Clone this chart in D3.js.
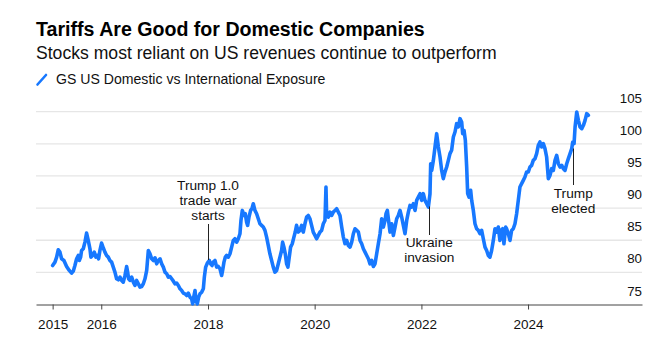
<!DOCTYPE html>
<html>
<head>
<meta charset="utf-8">
<script src="https://cdn.jsdelivr.net/npm/d3@7"></script>
<style>
  body { margin: 0; background: #fff; }
  svg { display: block; font-family: "Liberation Sans", Arial, Helvetica, sans-serif; }
</style>
</head>
<body>
<div class="chart"></div>
<script>

// observations: decimal year + index level
var obsYear = [
  2015.088,2015.132,2015.163,2015.194,2015.225,2015.256,2015.300,2015.350,2015.400,2015.444,
  2015.475,2015.506,2015.538,2015.569,2015.588,2015.613,2015.631,2015.663,2015.694,2015.725,
  2015.756,2015.788,2015.806,2015.838,2015.869,2015.900,2015.925,2015.950,2015.975,2016.006,
  2016.037,2016.069,2016.100,2016.131,2016.162,2016.194,2016.225,2016.256,2016.287,2016.319,
  2016.350,2016.381,2016.412,2016.444,2016.475,2016.494,2016.512,2016.537,2016.569,2016.600,
  2016.631,2016.662,2016.694,2016.725,2016.756,2016.787,2016.818,2016.850,2016.881,2016.912,
  2016.943,2016.975,2017.006,2017.037,2017.068,2017.100,2017.131,2017.162,2017.193,2017.225,
  2017.256,2017.287,2017.318,2017.350,2017.381,2017.412,2017.443,2017.475,2017.506,2017.537,
  2017.568,2017.600,2017.631,2017.662,2017.693,2017.712,2017.737,2017.756,2017.774,2017.799,
  2017.824,2017.849,2017.881,2017.912,2017.931,2017.956,2017.987,2018.024,2018.049,2018.074,
  2018.099,2018.131,2018.162,2018.193,2018.224,2018.256,2018.274,2018.299,2018.324,2018.349,
  2018.380,2018.412,2018.443,2018.474,2018.505,2018.537,2018.568,2018.599,2018.618,2018.643,
  2018.674,2018.699,2018.724,2018.743,2018.768,2018.799,2018.824,2018.849,2018.880,2018.912,
  2018.943,2018.974,2019.005,2019.037,2019.068,2019.099,2019.130,2019.161,2019.193,2019.224,
  2019.255,2019.286,2019.318,2019.349,2019.380,2019.399,2019.424,2019.449,2019.474,2019.499,
  2019.524,2019.549,2019.580,2019.611,2019.636,2019.661,2019.693,
  2019.724,2019.756,2019.787,2019.818,2019.849,2019.881,2019.912,2019.943,2019.974,2020.006,
  2020.037,2020.068,2020.100,2020.131,2020.162,2020.193,2020.212,2020.224,2020.256,2020.287,
  2020.318,2020.349,2020.381,2020.412,2020.443,2020.474,2020.506,2020.537,2020.568,2020.599,
  2020.630,2020.662,2020.693,2020.724,2020.755,2020.787,2020.818,2020.849,2020.880,2020.911,
  2020.943,2020.974,2021.005,2021.036,2021.068,2021.099,2021.130,2021.161,2021.192,2021.224,
  2021.255,2021.286,2021.317,2021.336,2021.361,2021.380,2021.411,2021.443,2021.474,2021.505,
  2021.536,2021.567,2021.599,2021.630,2021.661,2021.692,2021.724,2021.755,2021.786,2021.817,
  2021.849,2021.880,2021.911,2021.942,2021.974,2022.005,2022.036,2022.067,2022.099,2022.130,
  2022.161,2022.174,2022.193,2022.224,2022.255,2022.286,2022.318,2022.349,2022.380,2022.411,
  2022.442,2022.474,2022.505,2022.536,2022.567,2022.599,2022.630,2022.661,2022.692,2022.724,
  2022.755,2022.774,2022.799,2022.824,2022.849,2022.868,2022.893,2022.924,2022.943,2022.974,
  2023.005,2023.036,2023.068,2023.099,2023.130,2023.161,2023.193,2023.224,2023.255,2023.286,
  2023.317,2023.349,2023.380,2023.411,2023.442,2023.473,2023.492,2023.523,2023.548,2023.580,
  2023.598,2023.630,2023.661,2023.692,2023.723,2023.755,2023.786,2023.817,2023.848,2023.880,
  2023.911,2023.942,2023.973,2024.005,2024.036,2024.067,2024.098,2024.130,2024.161,2024.192,
  2024.223,2024.255,2024.286,2024.317,2024.348,2024.380,2024.411,2024.442,2024.473,2024.505,
  2024.536,2024.567,2024.598,2024.630,2024.661,2024.692,2024.723,2024.754,2024.786,2024.817,
  2024.836,2024.861,2024.880,2024.911,2024.942,2024.973,2025.005,2025.036,2025.067,2025.098,
  2025.129
];

var obsValue = [
  81.07,81.59,82.37,83.52,83.15,82.11,81.85,80.92,80.30,79.88,
  80.19,81.07,82.11,82.63,81.85,82.37,83.41,83.67,84.71,86.11,
  84.97,83.67,82.37,82.63,83.15,82.37,82.63,82.11,83.41,84.55,
  83.83,83.15,82.63,82.37,81.85,81.59,80.82,80.04,79.00,78.84,
  79.26,78.74,78.48,79.52,80.92,80.04,79.00,78.74,79.26,78.48,
  77.96,78.74,78.22,77.70,77.80,78.22,79.00,80.30,83.41,82.89,
  82.11,81.85,82.27,81.33,81.85,82.11,81.33,80.82,80.04,79.78,
  79.26,79.36,79.00,78.63,78.22,78.32,77.96,77.44,77.18,76.77,
  76.66,76.40,76.77,76.14,75.88,75.10,76.40,77.18,75.62,75.10,
  76.14,76.66,76.92,77.44,79.26,80.82,81.44,81.85,81.33,81.07,
  81.59,81.85,80.82,80.92,80.56,79.52,80.30,81.59,82.37,82.63,
  82.37,82.89,83.93,84.97,85.23,84.71,85.23,86.01,88.08,89.64,
  88.86,89.12,87.82,87.31,88.60,89.64,89.90,90.68,89.64,89.12,
  88.34,87.56,87.31,87.05,86.53,85.49,84.19,82.89,81.85,80.82,
  80.04,80.30,81.33,82.37,83.41,84.71,83.93,82.89,81.33,80.82,
  82.37,83.93,84.45,85.49,86.27,87.31,86.27,
  86.53,87.31,86.27,87.56,88.60,88.86,88.34,87.31,86.27,85.75,
  85.23,85.75,86.27,86.53,87.56,88.08,93.28,89.12,88.60,89.38,
  88.86,89.38,89.64,89.90,89.38,88.86,87.05,85.49,84.45,84.97,
  84.19,83.93,84.71,86.01,86.79,86.53,86.27,84.97,84.45,83.67,
  83.15,82.63,82.11,81.33,81.85,80.92,81.33,82.89,84.45,86.01,
  88.34,87.05,88.08,89.12,89.64,88.34,86.27,87.56,85.75,87.05,
  88.34,88.86,89.64,88.60,87.31,86.01,88.08,89.38,90.42,90.16,
  90.68,89.64,91.20,91.72,92.24,91.20,92.24,91.20,90.68,90.16,
  92.24,96.91,95.87,97.43,99.51,101.58,99.51,97.95,95.87,94.58,
  95.61,96.39,97.43,98.47,98.99,101.06,101.84,103.14,102.62,103.92,
  103.40,101.58,102.10,100.55,96.39,92.24,91.72,92.76,91.20,89.64,
  87.56,86.79,86.53,86.01,86.53,85.23,83.93,83.41,82.63,82.37,
  83.41,84.97,86.79,86.27,87.05,84.97,86.53,86.79,84.45,87.05,
  86.79,86.01,84.97,86.53,86.79,87.56,89.12,91.20,93.28,93.80,
  94.32,94.83,95.61,95.61,96.39,96.65,97.43,97.69,98.47,99.77,
  100.29,99.51,100.03,99.25,97.95,94.58,95.09,96.13,95.87,97.43,
  98.21,96.91,96.39,96.65,96.13,95.87,96.91,97.69,98.47,99.25,
  100.29,100.03,102.62,104.96,103.66,102.62,102.36,102.88,103.66,104.70,
  104.44
];

var yTicks = [75, 80, 85, 90, 95, 100, 105];
var xTickYears = [obsYear[0], 2016, 2018, 2020, 2022, 2024];

var notes = [
  { year: 2018.0,  lines: ['Trump 1.0', 'trade war', 'starts'], textY: 189.5, lineTop: 224, lineBottom: 260 },
  { year: 2022.148, lines: ['Ukraine', 'invasion'], textY: 246.5, lineTop: 206.5, lineBottom: 235 },
  { year: 2024.846, lines: ['Trump', 'elected'], textY: 197.5, lineTop: 148.5, lineBottom: 185 }
];

// decimal year -> Date (UTC)
function toDate(y) {
  var yr = Math.floor(y);
  var a = Date.UTC(yr, 0, 1), b = Date.UTC(yr + 1, 0, 1);
  return new Date(a + (y - yr) * (b - a));
}

var data = obsYear.map(function (y, i) { return { date: toDate(y), value: obsValue[i] }; });

var W = 671, H = 345;
var blue = '#1778ff';

var svg = d3.select('.chart')
  .append('svg')
  .attr('width', W)
  .attr('height', H);

var x = d3.scaleUtc()
  .domain([toDate(2014.776), toDate(2026.135)])
  .range([36, 642]);

var y = d3.scaleLinear()
  .domain([75, 105])
  .range([304.5, 111.7]);

// title block
svg.append('text')
  .attr('x', 36).attr('y', 35.5)
  .style('font-size', '19.6px').style('font-weight', 'bold').style('fill', '#000')
  .text('Tariffs Are Good for Domestic Companies');

svg.append('text')
  .attr('x', 36).attr('y', 59)
  .style('font-size', '17.6px').style('fill', '#111')
  .text('Stocks most reliant on US revenues continue to outperform');

// legend
svg.append('line')
  .attr('x1', 37.5).attr('y1', 84.5).attr('x2', 46).attr('y2', 75)
  .style('stroke', blue).style('stroke-width', 2.6).style('stroke-linecap', 'round');

svg.append('text')
  .attr('x', 56).attr('y', 84)
  .style('font-size', '14.1px').style('fill', '#111')
  .text('GS US Domestic vs International Exposure');

// gridlines + right-hand labels
svg.selectAll('.grid')
  .data(yTicks.filter(function (d) { return d > 75; }))
  .enter()
  .append('line')
  .attr('class', 'grid')
  .attr('x1', 36).attr('x2', 642)
  .attr('y1', function (d) { return y(d); })
  .attr('y2', function (d) { return y(d); })
  .style('stroke', '#e6e6e6')
  .style('stroke-width', 1.3);

svg.selectAll('.ylab')
  .data(yTicks)
  .enter()
  .append('text')
  .attr('class', 'ylab')
  .attr('x', 642)
  .attr('y', function (d) { return y(d) - 9; })
  .style('text-anchor', 'end')
  .style('font-size', '13.3px')
  .style('fill', '#111')
  .text(function (d) { return d; });

// x axis
var xAxis = svg.append('g')
  .attr('transform', 'translate(0,' + y(75) + ')')
  .call(d3.axisBottom(x)
    .tickValues(xTickYears.map(toDate))
    .tickFormat(function (d) { return d.getUTCFullYear(); })
    .tickSizeInner(5)
    .tickSizeOuter(0)
    .tickPadding(10));

xAxis.select('.domain').style('stroke', '#444');
xAxis.selectAll('.tick line').style('stroke', '#444');
xAxis.selectAll('.tick text')
  .style('font-family', '"Liberation Sans", Arial, sans-serif')
  .style('font-size', '13.5px')
  .style('fill', '#111');

// series
var line = d3.line()
  .x(function (d) { return x(d.date); })
  .y(function (d) { return y(d.value); })
  .curve(d3.curveLinear);

svg.append('path')
  .datum(data)
  .attr('d', line)
  .style('fill', 'none')
  .style('stroke', blue)
  .style('stroke-width', 3.6)
  .style('stroke-linejoin', 'round')
  .style('stroke-linecap', 'round');

// annotations
var ann = svg.selectAll('.note')
  .data(notes)
  .enter()
  .append('g')
  .attr('class', 'note');

ann.append('line')
  .attr('x1', function (d) { return Math.round(x(toDate(d.year))) + 0.5; })
  .attr('x2', function (d) { return Math.round(x(toDate(d.year))) + 0.5; })
  .attr('y1', function (d) { return d.lineTop; })
  .attr('y2', function (d) { return d.lineBottom; })
  .style('stroke', '#222')
  .style('stroke-width', 1);

ann.append('text')
  .attr('x', function (d) { return x(toDate(d.year)); })
  .attr('y', function (d) { return d.textY; })
  .style('text-anchor', 'middle')
  .style('font-size', '13.7px')
  .style('fill', '#111')
  .selectAll('tspan')
  .data(function (d) { return d.lines.map(function (t) { return { t: t, x: x(toDate(d.year)) }; }); })
  .enter()
  .append('tspan')
  .attr('x', function (d) { return d.x; })
  .attr('dy', function (d, i) { return i === 0 ? 0 : 15; })
  .text(function (d) { return d.t; });

</script>
</body>
</html>
